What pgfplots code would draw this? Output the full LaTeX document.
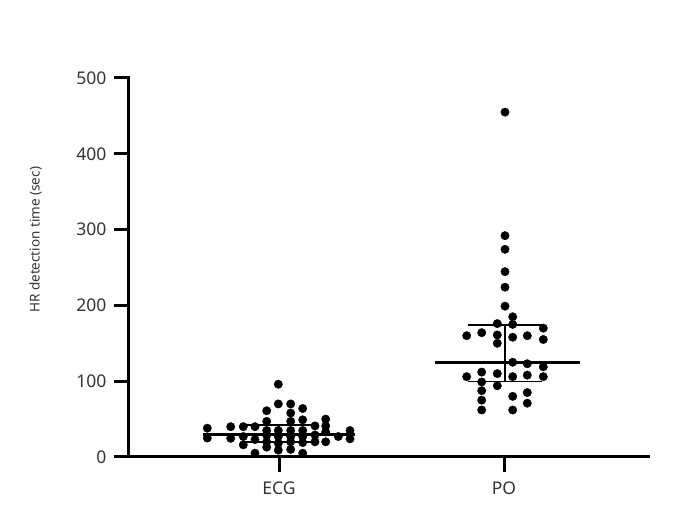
\documentclass[border=0pt]{standalone}
\usepackage{pgfplots}
\pgfplotsset{compat=1.18}
\usepackage{fontspec}
\setmainfont{Noto Sans}
\definecolor{txt}{HTML}{333333}
\begin{document}
\begin{tikzpicture}
\path[use as bounding box] (0,0) rectangle (678pt,508pt);
\begin{axis}[
  at={(129pt,51pt)}, anchor=south west,
  scale only axis, width=519pt, height=379pt,
  xmin=129, xmax=648, ymin=0, ymax=500,
  axis x line*=bottom, axis y line*=left,
  axis line style={line width=3pt, line cap=rect},
  major tick style={black, line width=3pt},
  tick align=outside, major tick length=15pt,
  xtick={279,504}, xticklabels={ECG,PO},
  ytick={0,100,200,300,400,500},
  /pgf/number format/assume math mode=true,
  tick label style={font=\fontsize{17.5}{21}\selectfont, text=txt},
  yticklabel style={xshift=-4pt},
  xticklabel style={yshift=-6pt},
  ylabel={HR detection time (sec)},
  every axis y label/.style={at={(axis description cs:-0.18,0.573)}, rotate=90, anchor=center, font=\fontsize{13.5}{16}\selectfont, text=txt},
  clip=false,
]
% median and IQR lines
\addplot[line width=3pt, black] coordinates {(203,30) (355,30)};
\addplot[line width=1.8pt, black] coordinates {(242,42) (316,42)};
\addplot[line width=1.8pt, black] coordinates {(242,20) (316,20)};
\addplot[line width=1.8pt, black] coordinates {(279,20) (279,42)};
\addplot[line width=3pt, black] coordinates {(435,124.5) (580,124.5)};
\addplot[line width=1.8pt, black] coordinates {(468,174) (542,174)};
\addplot[line width=1.8pt, black] coordinates {(468,99.5) (542,99.5)};
\addplot[line width=1.8pt, black] coordinates {(505,99.5) (505,174)};
% ECG points
\addplot[only marks, mark=*, mark size=4.2pt, black] coordinates {
(207.3,38) (207.3,25)
(230.7,40) (230.7,24.6)
(243.3,40) (243.3,27) (243.3,16)
(255,40) (255,23) (255,5)
(266.7,61) (266.7,47) (266.7,35) (266.7,28.5) (266.7,20) (266.7,13)
(278.3,96) (278.3,70) (278.3,35) (278.3,27) (278.3,18) (278.3,9)
(290.7,70) (290.7,58) (290.7,47) (290.7,35) (290.7,27) (290.7,20) (290.7,10)
(302.7,64) (302.7,49) (302.7,35) (302.7,27) (302.7,19) (302.7,5)
(315,41) (315,29) (315,20)
(325.7,50) (325.7,41) (325.7,33) (325.7,20)
(338.3,27)
(350,35) (350,24)
};
% PO points
\addplot[only marks, mark=*, mark size=4.2pt, black] coordinates {
(466.7,160) (466.7,106)
(481.7,164) (481.7,112) (481.7,99) (481.7,87.5) (481.7,75) (481.7,62)
(497.3,176) (497.3,161) (497.3,150) (497.3,110) (497.3,94)
(505,455) (505,292) (505,274) (505,244.5) (505,224) (505,199)
(512.7,185) (512.7,175) (512.7,158) (512.7,125) (512.7,106) (512.7,80) (512.7,62)
(527.3,160) (527.3,123) (527.3,108) (527.3,85) (527.3,71)
(543.3,170) (543.3,155) (543.3,119) (543.3,106)
};
\end{axis}
\end{tikzpicture}
\end{document}
